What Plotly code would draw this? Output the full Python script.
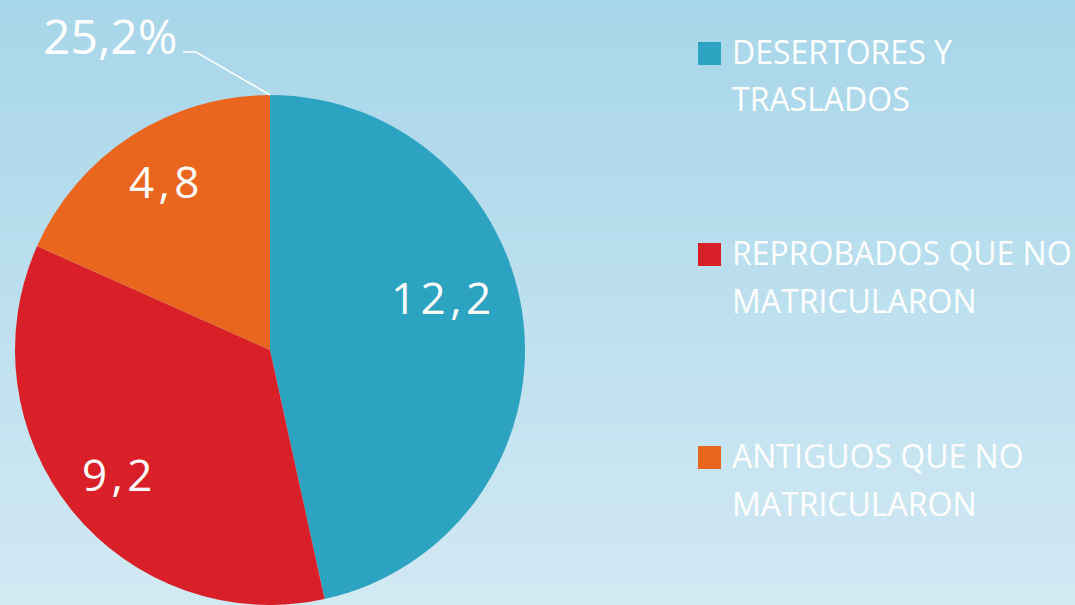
import math
import plotly.graph_objects as go

categories = ["DESERTORES Y TRASLADOS", "REPROBADOS QUE NO MATRICULARON", "ANTIGUOS QUE NO MATRICULARON"]
legend_lines = [["DESERTORES Y", "TRASLADOS"], ["REPROBADOS QUE NO", "MATRICULARON"], ["ANTIGUOS QUE NO", "MATRICULARON"]]
values = [12.2, 9.2, 4.8]
colors = ["#2ca3c0", "#d91f28", "#ea661e"]
total_label = "25,2%"

W, H = 1075, 605
FONT = "Open Sans"
HS = "\u200a"  # hair space for letter spacing

# pie geometry (pixels)
CX, CY, R = 270, 350, 255
label_radius = [0.70, 0.77, 0.78]
label_angle_shift = [-11, 0, 1]


def fmt(v):
    s = ("%.1f" % v).replace(".", ",")
    return HS.join(s)


fig = go.Figure()
fig.add_trace(go.Pie(
    labels=categories,
    values=values,
    sort=False,
    direction="clockwise",
    rotation=0,
    marker=dict(colors=colors, line=dict(width=0)),
    textinfo="none",
    showlegend=False,
    hoverinfo="label+value",
    domain=dict(x=[(CX - R) / W, (CX + R) / W], y=[1 - (CY + R) / H, 1 - (CY - R) / H]),
))

shapes = []
# vertical gradient background
top = (168, 214, 234)
bot = (209, 233, 243)
n = 60
for i in range(n):
    t = i / (n - 1)
    c = tuple(round(top[k] + (bot[k] - top[k]) * t) for k in range(3))
    shapes.append(dict(type="rect", xref="paper", yref="paper",
                       x0=0, x1=1, y0=1 - (i + 1) / n - 0.002, y1=1 - i / n,
                       fillcolor="rgb(%d,%d,%d)" % c, line=dict(width=0), layer="below"))

# leader line from total label to pie top
shapes.append(dict(type="path", xref="paper", yref="paper",
                   path="M %f,%f L %f,%f L %f,%f" % (183 / W, 1 - 52 / H, 196 / W, 1 - 52 / H, CX / W, 1 - (CY - R) / H),
                   line=dict(color="white", width=1.5)))

annotations = [dict(text=total_label, x=110 / W, y=1 - 36 / H, xref="paper", yref="paper",
                    showarrow=False, xanchor="center", yanchor="middle",
                    font=dict(family=FONT, size=48, color="white"))]

# slice value labels, placed at slice mid-angles
total = sum(values)
cum = 0.0
for i, v in enumerate(values):
    mid = (cum + v / 2) / total * 360 + label_angle_shift[i]
    cum += v
    rr = label_radius[i] * R
    px = CX + rr * math.sin(math.radians(mid))
    py = CY - rr * math.cos(math.radians(mid))
    annotations.append(dict(text=fmt(v), x=px / W, y=1 - py / H, xref="paper", yref="paper",
                            showarrow=False, xanchor="center", yanchor="middle",
                            font=dict(family=FONT, size=44, color="white")))

# legend drawn as squares + text lines
legend_y0 = [51, 252, 455]
for i, lines in enumerate(legend_lines):
    yc = legend_y0[i]
    shapes.append(dict(type="rect", xref="paper", yref="paper",
                       x0=698 / W, x1=721 / W, y0=1 - (yc + 14) / H, y1=1 - (yc - 9) / H,
                       fillcolor=colors[i], line=dict(width=0)))
    for j, line in enumerate(lines):
        annotations.append(dict(text=line, x=730 / W, y=1 - (yc + j * 48) / H,
                                xref="paper", yref="paper", showarrow=False,
                                xanchor="left", yanchor="middle",
                                font=dict(family=FONT, size=32, color="white")))

fig.update_layout(
    width=W, height=H,
    margin=dict(l=0, r=0, t=0, b=0),
    paper_bgcolor="#bddfee",
    plot_bgcolor="rgba(0,0,0,0)",
    separators=", ",
    shapes=shapes,
    annotations=annotations,
    font=dict(family=FONT, color="white"),
)

fig.write_html("out.html", config={"displayModeBar": False},
               post_script="document.body.style.margin='0';document.body.style.overflow='hidden';")
